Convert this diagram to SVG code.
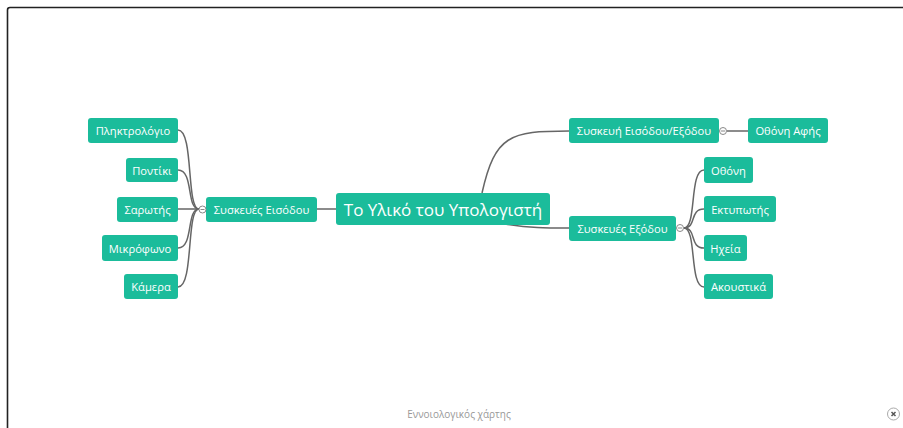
<svg xmlns="http://www.w3.org/2000/svg" width="903" height="428" viewBox="0 0 903 428">
<style>
.n rect{fill:#1bbc9b;}
.n text{fill:#fff;font-family:"Open Sans","Liberation Sans",sans-serif;font-size:11.2px;font-weight:500;text-anchor:middle;dominant-baseline:central;}
.c{fill:none;stroke:#666;stroke-width:1.5;}
.t{fill:#fff;stroke:#888;stroke-width:1;}
.tm{stroke:#888;stroke-width:1;}
</style>
<rect x="0" y="0" width="903" height="428" fill="#fff"/>
<path d="M7.5,428 V10 Q7.5,7.5 10,7.5 H903" fill="none" stroke="#222" stroke-width="1.6"/>
<g id="connectors">
<path class="c" d="M336,209 H317"/>
<path class="c" d="M482,193 C495,135 510,131 569,131"/>
<path class="c" d="M505,224 C530,228 545,228 569,228"/>
<path class="c" d="M727,131 H748"/>
<path class="c" d="M199,209 C186,209 194,130 178,130"/>
<path class="c" d="M199,209 C186,209 194,170 178,170"/>
<path class="c" d="M199,209 H178"/>
<path class="c" d="M199,209 C186,209 194,248 178,248"/>
<path class="c" d="M199,209 C186,209 194,287 178,287"/>
<path class="c" d="M684,228 C697,228 689,170 704,170"/>
<path class="c" d="M684,228 C697,228 689,209 704,209"/>
<path class="c" d="M684,228 C697,228 689,248 704,248"/>
<path class="c" d="M684,228 C697,228 689,287 704,287"/>
</g>
<g id="root" class="n"><rect x="336" y="193" width="214" height="32" rx="3"/><text x="443" y="209" style="font-size:17px;font-weight:400">Το Υλικό του Υπολογιστή</text></g>
<g id="input" class="n"><rect x="206" y="197" width="111" height="25" rx="3"/><text x="261.5" y="209.5">Συσκευές Εισόδου</text></g>
<g id="keyboard" class="n"><rect x="88" y="118" width="90" height="25" rx="3"/><text x="133" y="130.5">Πληκτρολόγιο</text></g>
<g id="mouse" class="n"><rect x="126" y="158" width="52" height="24" rx="3"/><text x="152" y="170">Ποντίκι</text></g>
<g id="scanner" class="n"><rect x="117" y="197" width="61" height="25" rx="3"/><text x="147.5" y="209.5">Σαρωτής</text></g>
<g id="mic" class="n"><rect x="102" y="235" width="76" height="26" rx="3"/><text x="140" y="248">Μικρόφωνο</text></g>
<g id="camera" class="n"><rect x="124" y="274" width="54" height="25" rx="3"/><text x="151" y="286.5">Κάμερα</text></g>
<g id="io" class="n"><rect x="569" y="118" width="150" height="25" rx="3"/><text x="644" y="130.5">Συσκευή Εισόδου/Εξόδου</text></g>
<g id="touch" class="n"><rect x="748" y="118" width="80" height="25" rx="3"/><text x="788" y="130.5">Οθόνη Αφής</text></g>
<g id="output" class="n"><rect x="569" y="216" width="107" height="25" rx="3"/><text x="622.5" y="228.5">Συσκευές Εξόδου</text></g>
<g id="screen" class="n"><rect x="704" y="157" width="49" height="26" rx="3"/><text x="728.5" y="170">Οθόνη</text></g>
<g id="printer" class="n"><rect x="704" y="196" width="72" height="26" rx="3"/><text x="740" y="209">Εκτυπωτής</text></g>
<g id="speakers" class="n"><rect x="704" y="235" width="43" height="26" rx="3"/><text x="725.5" y="248">Ηχεία</text></g>
<g id="headphones" class="n"><rect x="704" y="274" width="69" height="25" rx="3"/><text x="738.5" y="286.5">Ακουστικά</text></g>
<g id="toggles">
<circle class="t" cx="202.5" cy="209.5" r="3.5"/><path class="tm" d="M200.5,209.5 H204.5"/>
<circle class="t" cx="723" cy="131" r="3.5"/><path class="tm" d="M721,131 H725"/>
<circle class="t" cx="680" cy="228" r="3.5"/><path class="tm" d="M678,228 H682"/>
</g>
<text x="459" y="414" fill="#999" font-family="Open Sans, Liberation Sans, sans-serif" font-size="10" text-anchor="middle" dominant-baseline="central">Εννοιολογικός χάρτης</text>
<g id="close">
<circle cx="893.5" cy="414" r="6" fill="#fff" stroke="#aaa" stroke-width="1"/>
<path d="M891.5,412 L895.5,416 M895.5,412 L891.5,416" stroke="#555" stroke-width="1.5"/>
</g>
</svg>
